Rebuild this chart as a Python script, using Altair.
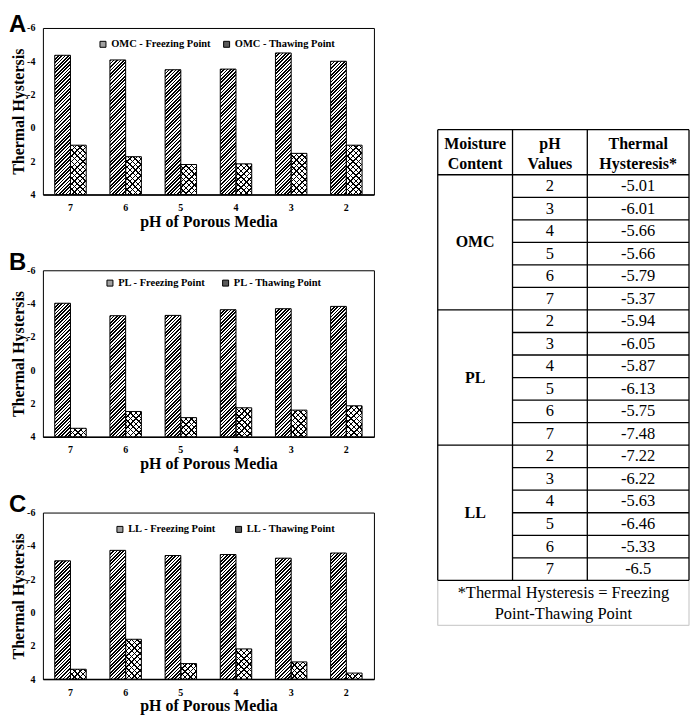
import altair as alt
import pandas as pd

# ---------------- data ----------------
ph_order = ["7", "6", "5", "4", "3", "2"]
moisture_names = ["OMC", "PL", "LL"]
panel_letters = ["A", "B", "C"]

omc_thawing = [-4.36, -4.08, -3.49, -3.53, -4.50, -4.00]
omc_freezing = [1.04, 1.73, 2.20, 2.16, 1.53, 1.04]
pl_thawing = [-4.02, -3.27, -3.29, -3.63, -3.69, -3.83]
pl_freezing = [3.49, 2.48, 2.85, 2.26, 2.40, 2.14]
ll_thawing = [-3.10, -3.73, -3.42, -3.48, -3.26, -3.57]
ll_freezing = [3.41, 1.61, 3.07, 2.19, 2.97, 3.64]

y_ticks = [-6, -4, -2, 0, 2, 4]

table_headers = ["Moisture\nContent", "pH\nValues", "Thermal\nHysteresis*"]
table_ph = ["2", "3", "4", "5", "6", "7"]
table_omc = ["-5.01", "-6.01", "-5.66", "-5.66", "-5.79", "-5.37"]
table_pl = ["-5.94", "-6.05", "-5.87", "-6.13", "-5.75", "-7.48"]
table_ll = ["-7.22", "-6.22", "-5.63", "-6.46", "-5.33", "-6.5"]
table_note = "*Thermal Hysteresis = Freezing\nPoint-Thawing Point"

# ---------------- layout / style ----------------
SERIF = "Liberation Serif"
SANS = "Liberation Sans"
PW, PH = 332, 167
Y_DOMAIN = [-6, 4]
PAD_IN, PAD_OUT = 0.43, 0.215
BAR_W = PW / 6 * (1 - PAD_IN) / 2

legend_pos = [(55, 11, 10), (62, 7.5, 14), (72, 11.5, 17)]
letter_top = [-15, -19.5, -19.5]


def hatch(w, h, period, frac, direction, gap):
    L = w + h
    stops = []
    k = 0
    while k * period < L:
        a = round(k * period / L, 5)
        b = round(min((k * period + frac * period) / L, 1.0), 5)
        c = round(min((k + 1) * period / L, 1.0), 5)
        stops += [
            {"offset": a, "color": "black"},
            {"offset": b, "color": "black"},
            {"offset": b, "color": gap},
            {"offset": c, "color": gap},
        ]
        k += 1
    kf = L / (w * w + h * h)
    if direction == "/":
        return {"gradient": "linear", "stops": stops,
                "x1": 0, "y1": 0, "x2": kf * w, "y2": kf * h}
    return {"gradient": "linear", "stops": stops,
            "x1": 0, "y1": 1, "x2": kf * w, "y2": 1 - kf * h}


def bar_height(v):
    return (Y_DOMAIN[1] - v) / (Y_DOMAIN[1] - Y_DOMAIN[0]) * PH


def panel(i, thaw, frz):
    name = moisture_names[i]
    th_lab = f"{name} - Thawing Point"
    fr_lab = f"{name} - Freezing Point"
    rows = []
    for j, ph in enumerate(ph_order):
        rows.append({"pH": ph, "series": "Thawing", "label": th_lab, "value": thaw[j], "idx": 2 * j})
        rows.append({"pH": ph, "series": "Freezing", "label": fr_lab, "value": frz[j], "idx": 2 * j + 1})
    df = pd.DataFrame(rows)
    base = alt.Chart(df)

    x = alt.X("pH:N", sort=ph_order, title="pH of Porous Media",
              scale=alt.Scale(paddingInner=PAD_IN, paddingOuter=PAD_OUT),
              axis=alt.Axis(labelAngle=0, ticks=False, tickSize=0, labelPadding=8,
                            titlePadding=1, domain=True, domainColor="black",
                            domainWidth=1.5, grid=False, labelFont=SERIF,
                            labelFontWeight="bold", labelFontSize=10, labelColor="black",
                            titleFont=SERIF, titleFontWeight="bold", titleFontSize=16,
                            titleColor="black"))
    xo = alt.XOffset("series:N", sort=["Thawing", "Freezing"])
    y = alt.Y("value:Q", title="Thermal Hystersis",
              scale=alt.Scale(domain=Y_DOMAIN, reverse=True, nice=False, zero=False),
              axis=alt.Axis(values=y_ticks, labelExpr="'' + datum.value", ticks=False,
                            tickSize=0, labelPadding=8, titlePadding=0, domain=False,
                            grid=False, labelFont=SERIF, labelFontWeight="bold",
                            labelFontSize=10, labelColor="black", titleFont=SERIF,
                            titleFontWeight="bold", titleFontSize=16, titleColor="black"))
    y2 = alt.datum(Y_DOMAIN[1])

    lx, ly, cp = legend_pos[i]
    layers = [
        base.mark_bar(strokeWidth=0).encode(
            x=x, xOffset=xo, y=y, y2=y2,
            fill=alt.Fill("label:N", title=None,
                          scale=alt.Scale(domain=[fr_lab, th_lab], range=["#a0a0a0", "#5a5a5a"]),
                          legend=alt.Legend(orient="none", legendX=lx, legendY=ly,
                                            direction="horizontal", symbolType="square",
                                            symbolSize=36, symbolStrokeColor="black",
                                            symbolStrokeWidth=1, labelFont=SERIF,
                                            labelFontWeight="bold", labelFontSize=10.5,
                                            labelColor="black", columnPadding=cp,
                                            labelOffset=3, padding=0)))
    ]
    for _, r in df.iterrows():
        h = bar_height(r["value"])
        if r["series"] == "Thawing":
            grads = [hatch(BAR_W, h, 3.4, 0.5, "/", "white")]
        else:
            grads = [hatch(BAR_W, h, 5.6, 0.26, "/", "white"),
                     hatch(BAR_W, h, 5.6, 0.26, "\\", "rgba(255,255,255,0)")]
        for g in grads:
            layers.append(
                base.transform_filter(alt.datum.idx == int(r["idx"]))
                .mark_bar(fill=g, strokeWidth=0)
                .encode(x=x, xOffset=xo, y=y, y2=y2)
            )
    layers.append(base.mark_bar(fill="transparent", stroke="black", strokeWidth=1)
                  .encode(x=x, xOffset=xo, y=y, y2=y2))
    layers.append(
        alt.Chart(pd.DataFrame({"letter": [panel_letters[i]]}))
        .mark_text(font=SANS, fontWeight="bold", fontSize=24, align="left",
                   baseline="top", color="black")
        .encode(text="letter:N", x=alt.value(-34), y=alt.value(letter_top[i]))
    )
    return alt.layer(*layers).properties(
        width=PW, height=PH, view=alt.ViewBackground(stroke="black", strokeWidth=1)
    )


panels = [
    panel(0, omc_thawing, omc_freezing),
    panel(1, pl_thawing, pl_freezing),
    panel(2, ll_thawing, ll_freezing),
]
left = alt.vconcat(*panels, spacing=20).resolve_scale(fill="independent").resolve_legend(fill="independent")

# ---------------- table ----------------
TW = 252
ROW = 22.6
TTOP = 102
TOTAL_H = 605
col_edges = [0, 75, 150, TW]
col_mid = [(col_edges[k] + col_edges[k + 1]) / 2 for k in range(3)]
HEAD = 2
n_rows = len(table_ph)
body_end = HEAD + n_rows * len(moisture_names)
note_end = body_end + 2

black_rules = []
for yy in [0, HEAD] + [HEAD + g * n_rows for g in range(1, len(moisture_names))] + [body_end]:
    black_rules.append({"x": 0, "x2": TW, "y": yy, "y2": yy})
for g in range(len(moisture_names)):
    for r in range(1, n_rows):
        yy = HEAD + g * n_rows + r
        black_rules.append({"x": col_edges[1], "x2": TW, "y": yy, "y2": yy})
for xx in col_edges:
    black_rules.append({"x": xx, "x2": xx, "y": 0, "y2": body_end})
gray_rules = [
    {"x": 0, "x2": 0, "y": body_end, "y2": note_end},
    {"x": TW, "x2": TW, "y": body_end, "y2": note_end},
    {"x": 0, "x2": TW, "y": note_end, "y2": note_end},
]

# first line positions of multi-line texts (row units)
bold_cells = [{"x": col_mid[k], "y": 0.64, "t": table_headers[k]} for k in range(3)]
plain_cells = []
for g, vals in enumerate([table_omc, table_pl, table_ll]):
    bold_cells.append({"x": col_mid[0], "y": HEAD + g * n_rows + n_rows / 2, "t": moisture_names[g]})
    for r in range(n_rows):
        plain_cells.append({"x": col_mid[1], "y": HEAD + g * n_rows + r + 0.5, "t": table_ph[r]})
        plain_cells.append({"x": col_mid[2], "y": HEAD + g * n_rows + r + 0.5, "t": vals[r]})
note_cells = [{"x": TW / 2, "y": body_end + 0.58, "t": table_note}]

tx = alt.X("x:Q", scale=alt.Scale(domain=[0, TW], nice=False, zero=False), axis=None)
ty = alt.Y("y:Q", scale=alt.Scale(domain=[-TTOP / ROW, (TOTAL_H - TTOP) / ROW],
                                  nice=False, zero=False, reverse=True), axis=None)

t_black = alt.Chart(pd.DataFrame(black_rules)).mark_rule(color="black", strokeWidth=1.3).encode(
    x=tx, x2="x2:Q", y=ty, y2="y2:Q")
t_gray = alt.Chart(pd.DataFrame(gray_rules)).mark_rule(color="#cfcfcf", strokeWidth=1.3).encode(
    x=tx, x2="x2:Q", y=ty, y2="y2:Q")
t_bold = alt.Chart(pd.DataFrame(bold_cells)).mark_text(
    font=SERIF, fontWeight="bold", fontSize=16, lineBreak="\n", lineHeight=20,
    align="center", baseline="middle", color="black").encode(x=tx, y=ty, text="t:N")
t_plain = alt.Chart(pd.DataFrame(plain_cells)).mark_text(
    font=SERIF, fontSize=16.5, align="center", baseline="middle", color="black").encode(
    x=tx, y=ty, text="t:N")
t_note = alt.Chart(pd.DataFrame(note_cells)).mark_text(
    font=SERIF, fontSize=16.5, lineBreak="\n", lineHeight=21, align="center",
    baseline="middle", color="black").encode(x=tx, y=ty, text="t:N")

table = alt.layer(t_gray, t_black, t_bold, t_plain, t_note).properties(
    width=TW, height=TOTAL_H, view=alt.ViewBackground(stroke="transparent"))

chart = (
    alt.hconcat(left, table, spacing=61)
    .resolve_scale(fill="independent")
    .resolve_legend(fill="independent")
    .properties(padding={"top": 3, "left": 0, "right": 0, "bottom": 0})
    .configure(font=SERIF)
    .configure_view(stroke="transparent")
)

chart.save("out.html", embed_options={"renderer": "svg", "actions": False})
